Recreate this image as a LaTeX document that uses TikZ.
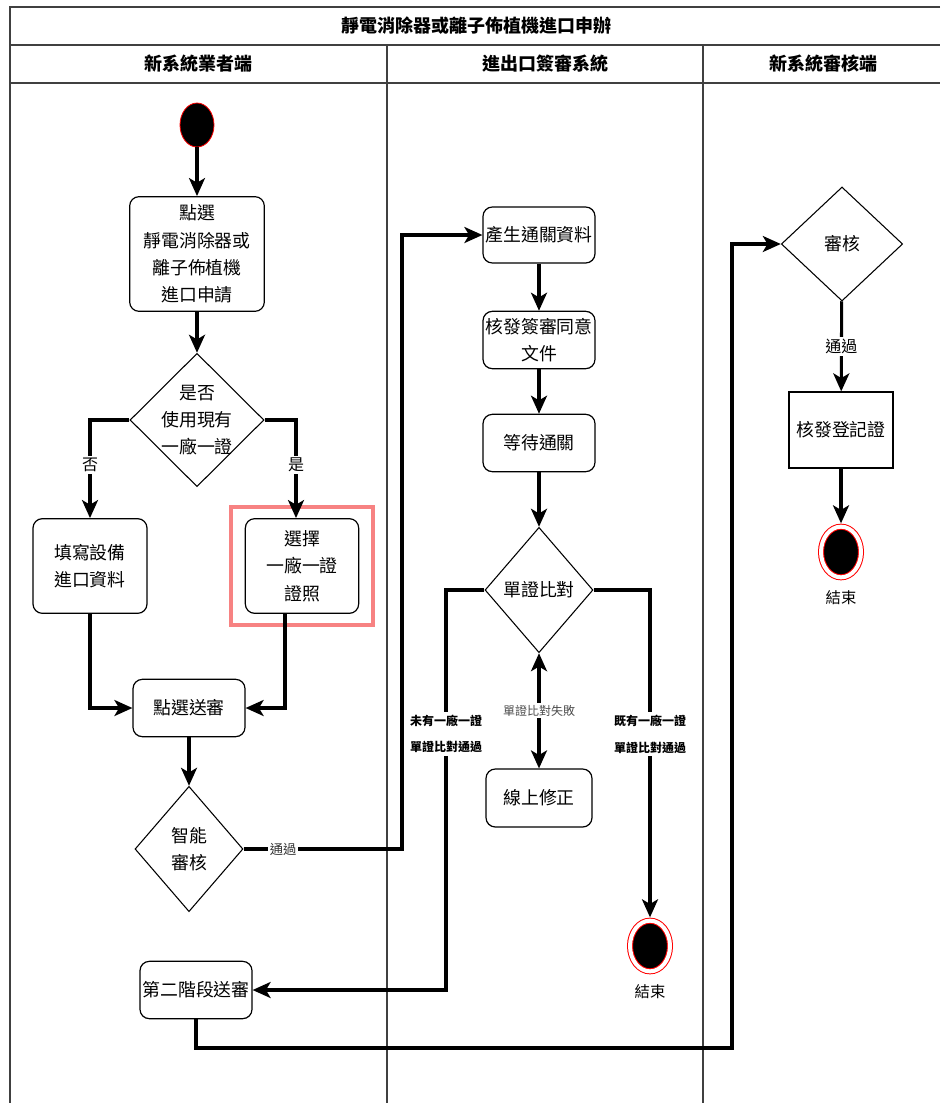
\documentclass[tikz,border=0pt]{standalone}
\usepackage{fontspec}
\setmainfont{Noto Sans CJK TC}
\usepackage{tikz}
\usetikzlibrary{shapes.geometric, arrows.meta, fit}
\definecolor{hilite}{HTML}{F78282}

\begin{document}
\begin{tikzpicture}[x=0.75pt, y=-0.75pt,
    >={Stealth[length=13.5pt, width=12pt, inset=3.5pt]},
    flow/.style={->, line width=2.3pt},
    lane/.style={line width=1pt, black!75},
    act/.style={draw, rounded corners=7pt, line width=0.9pt, align=center, inner sep=1pt,
        minimum width=84pt, minimum height=43pt, font=\fontsize{13.4pt}{20.5pt}\selectfont},
    decide/.style={draw, diamond, line width=0.8pt, inner sep=0pt},
    inside/.style={align=center, font=\fontsize{13.4pt}{20.5pt}\selectfont},
    startnode/.style={ellipse, fill=black, draw=red, line width=0.6pt, minimum width=25.5pt, minimum height=33pt},
    stopnode/.style={ellipse, fill=black, draw=red, double=white, double distance=3pt, line width=0.75pt,
        minimum width=30pt, minimum height=38pt, outer sep=2.5pt,
        label={[font=\fontsize{11.5pt}{14pt}\selectfont, label distance=4pt]below:結束}},
    lbl/.style={fill=white, inner sep=1.5pt, font=\fontsize{12pt}{14pt}\selectfont},
    note/.style={fill=white, inner sep=2pt, align=center, font=\bfseries\fontsize{9pt}{20pt}\selectfont},
    title/.style={font=\bfseries\fontsize{13.5pt}{16pt}\selectfont}]

    \useasboundingbox (0, 0) rectangle (940, 1103);
    \draw[lane] (940, 7) -- (10, 7) -- (10, 1103);
    \draw[lane] (10, 45) -- (940, 45);
    \draw[lane] (10, 83) -- (940, 83);
    \draw[lane] (387, 45) -- (387, 1103);
    \draw[lane] (703, 45) -- (703, 1103);

    \node[title] at (476, 26) (head) {靜電消除器或離子佈植機進口申辦};
    \node[title] at (198, 64) (laneA) {新系統業者端};
    \node[title] at (545, 64) (laneB) {進出口簽審系統};
    \node[title] at (823, 64) (laneC) {新系統審核端};

    \node[startnode] at (197, 125) (start) {};
    \node[act, minimum width=101pt, minimum height=86pt] at (197, 254) (apply) {點選\\靜電消除器或\\離子佈植機\\進口申請};
    \node[decide, minimum width=100.5pt, minimum height=100pt, label={[inside]center:是否\\使用現有\\一廠一證}] at (197, 420) (usecert) {};
    \node[act, minimum width=85.5pt, minimum height=71pt] at (90, 566) (fillin) {填寫設備\\進口資料};
    \node[act, minimum width=85pt, minimum height=71pt] at (302, 566) (pickcert) {選擇\\一廠一證\\證照};
    \node[draw=hilite, line width=3pt, fit=(pickcert), inner xsep=10pt, inner ysep=8pt] (mark) {};
    \node[act] at (189, 708) (submit) {點選送審};
    \node[decide, minimum width=81pt, minimum height=94pt, label={[inside]center:智能\\審核}] at (189, 849) (smart) {};
    \node[act] at (196, 990) (second) {第二階段送審};

    \node[act, minimum height=42pt] at (539, 235) (gendata) {產生通關資料};
    \node[act] at (539, 340) (permit) {核發簽審同意\\文件};
    \node[act] at (539, 443) (waiting) {等待通關};
    \node[decide, minimum width=81pt, minimum height=94pt, label={[inside]center:單證比對}] at (539, 590) (compare) {};
    \node[act, minimum width=79.5pt, minimum height=43.5pt] at (539, 798) (fix) {線上修正};
    \node[stopnode] at (650, 946) (endB) {};

    \node[decide, minimum width=91pt, minimum height=85.5pt, label={[inside]center:審核}] at (842, 244) (review) {};
    \node[draw, line width=0.9pt, inner sep=1pt, minimum width=78pt, minimum height=57pt,
        font=\fontsize{13.4pt}{20.5pt}\selectfont] at (841, 430) (issue) {核發登記證};
    \node[stopnode] at (841, 552) (endC) {};

    \coordinate (busA) at (402, 0);
    \coordinate (busB) at (446, 0);
    \coordinate (busC) at (732, 1048);

    \draw[flow] (start) -- (apply);
    \draw[flow] (apply) -- (usecert);
    \draw[flow] (usecert.west) -| node[lbl, pos=0.73] {否} (fillin);
    \draw[flow] (usecert.east) -| node[lbl, pos=0.73] {是} ([xshift=-4.5pt]pickcert.north);
    \draw[flow] (fillin) |- (submit);
    \draw[flow] ([xshift=-12.75pt]pickcert.south) |- (submit);
    \draw[flow] (submit) -- (smart);
    \draw[flow] (smart.east) -- node[lbl, pos=0.25, font=\fontsize{10pt}{12pt}\selectfont, text=black!80] {通過} (smart.east -| busA) |- (gendata);
    \draw[flow] (gendata) -- (permit);
    \draw[flow] (permit) -- (waiting);
    \draw[flow] (waiting) -- (compare);
    \draw[flow] (compare.west) -- (compare.west -| busB) |- node[note, pos=0.18] {未有一廠一證\\單證比對通過} (second);
    \draw[flow] (compare.east) -| node[note, pos=0.72] {既有一廠一證\\單證比對通過} (endB);
    \draw[flow, <->] (compare) -- node[lbl, font=\fontsize{9pt}{11pt}\selectfont, text=black!70] {單證比對失敗} (fix);
    \draw[flow] (second) |- (busC) |- (review);
    \draw[flow] (review) -- node[lbl] {通過} (issue);
    \draw[flow] (issue) -- (endC);
\end{tikzpicture}
\end{document}
